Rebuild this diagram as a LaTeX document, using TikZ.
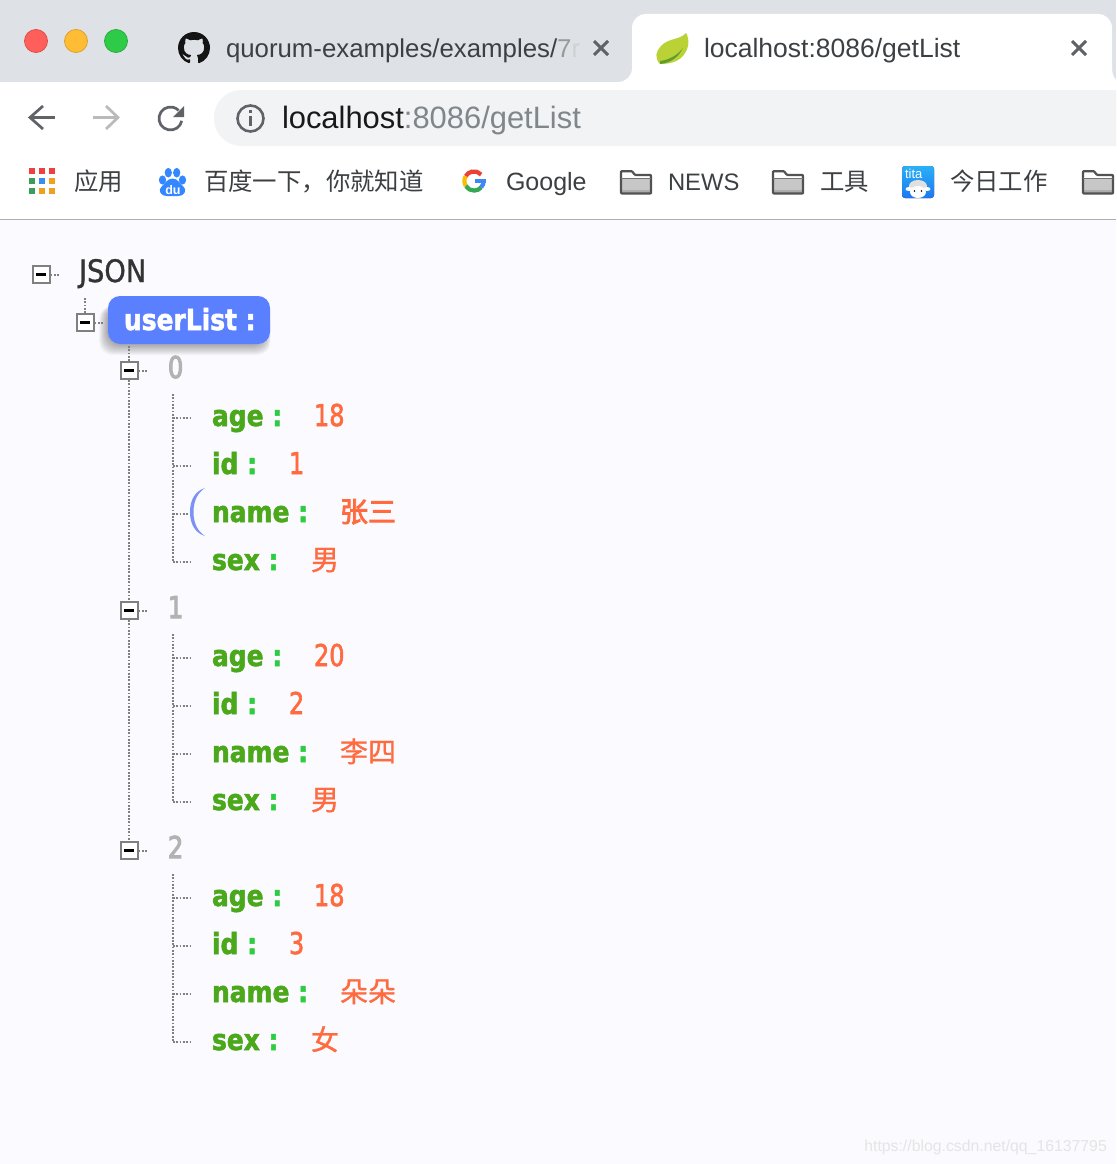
\documentclass[tikz,border=0pt]{standalone}
\usepackage{fontspec}
\setmainfont{Liberation Sans}
\newfontfamily\cjk{Noto Sans CJK SC}
\newfontfamily\cjkval[FakeBold=1.2]{Noto Sans CJK SC}
\newfontfamily\cjkhot[FakeBold=3]{Noto Sans CJK SC}
\newfontfamily\keyfont[FakeStretch=0.86,FakeBold=1.8]{DejaVu Sans}
\newfontfamily\valfont[FakeStretch=0.8,FakeBold=2]{DejaVu Sans}
\newfontfamily\idxfont[FakeStretch=0.8,FakeBold=3.5]{DejaVu Sans}
\newfontfamily\jsonfont[FakeStretch=0.88,FakeBold=1]{DejaVu Sans}
\usetikzlibrary{svg.path}
\newcommand\fsz[1]{\fontsize{#1}{#1}\selectfont}
\definecolor{pagebg}{HTML}{FAFAFF}
\definecolor{tabbar}{HTML}{DEE1E6}
\definecolor{addr}{HTML}{F1F3F4}
\definecolor{uigray}{HTML}{5F6368}
\definecolor{uitext}{HTML}{3C4043}
\definecolor{urlgray}{HTML}{80868B}
\definecolor{keygreen}{HTML}{4AA81A}
\definecolor{colongreen}{HTML}{2ECC40}
\definecolor{valorange}{HTML}{FF6A3F}
\definecolor{pillblue}{HTML}{5A80FF}
\definecolor{dotgray}{HTML}{808080}
\definecolor{idxgray}{HTML}{B2B2B2}
\definecolor{bmred}{HTML}{EF4040}
\definecolor{bmgreen}{HTML}{3A9D5D}
\definecolor{bmblue}{HTML}{3B8CF0}
\definecolor{bmorange}{HTML}{F0A020}
\tikzset{
  txt/.style={inner sep=0pt,outer sep=0pt,anchor=base west},
  tabtxt/.style={txt,text=uitext,font=\fsz{26.5}},
  bmtxt/.style={txt,text=uitext,font=\fsz{25}},
  bmcjk/.style={txt,text=uitext,font=\cjk\fsz{24.4}},
  keytxt/.style={txt,text=keygreen,font=\keyfont\bfseries\fsz{29}},
  valtxt/.style={txt,text=valorange,font=\valfont\fsz{30}},
  valcjk/.style={txt,text=valorange,font=\cjkval\fsz{28}},
  idxtxt/.style={txt,text=idxgray,font=\idxfont\fsz{30}},
  dots/.style={draw=dotgray,line width=2pt,dash pattern=on 1.8pt off 1.5pt},
  boxnode/.style={draw=dotgray,line width=2pt,fill=white,minimum size=17pt,inner sep=0pt,rectangle},
  minus/.style={draw=black,line width=2.3pt},
  uiline/.style={draw=uigray,line width=2.7pt},
  light/.style={circle,minimum size=23pt,inner sep=0pt,line width=.8pt},
}
\newcommand\folder[1]{%
  \begin{scope}[shift={(#1,170)}]
    \fill[white] (1,1) rectangle (31,23);
    \fill[black!22] (1,9) rectangle (31,23);
    \fill[black!32] (1,20) rectangle (31,23);
    \draw[draw=black!68,line width=2.2pt,line join=round,rounded corners=.8pt]
      (1,23.5) -- (1,1.2) -- (12,1.2) -- (15,5) -- (31,5) -- (31,23.5) -- cycle;
    \draw[draw=black!55,line width=1.2pt] (1,8.6) -- (31,8.6);
  \end{scope}}
\newcommand\cross[3]{\draw[draw=uigray,line width=2.9pt] (#1-7,#2-7) -- (#1+7,#2+7) (#1-7,#2+7) -- (#1+7,#2-7);}
\newcommand\treebox[3]{%
  \node[boxnode] (#1) at (#2,#3) {};
  \draw[minus] (#2-5,#3) -- (#2+5,#3);
  \coordinate (#1e) at (#2+18,#3);
  \draw[dots] (#1.east) -- (#1e);}
\newcommand\treerow[6]{%
  \coordinate (c#1) at (173,#2+2);
  \coordinate (d#1) at (190,#2+2);
  \draw[dots] (c#1) -- (d#1);
  \node[keytxt] (k#1) at (212,#2+10) {#3 {\color{colongreen}:}};
  \node[#6] (v#1) at (#4,#2+10) {#5};}
\begin{document}
\begin{tikzpicture}[x=1pt,y=-1pt]
\useasboundingbox (0,0) rectangle (1116,1164);
% page
\fill[pagebg] (0,0) rectangle (1116,1164);
\fill[white] (0,82) rectangle (1116,219);
\fill[tabbar] (0,0) rectangle (1116,82);
\draw[draw=black!32,line width=1pt] (0,219.5) -- (1116,219.5);
% active tab
\fill[white] (618,82) .. controls (626,82) and (632,76) .. (632,68) -- (632,28)
  .. controls (632,20) and (638,14) .. (646,14) -- (1098,14)
  .. controls (1106,14) and (1112,20) .. (1112,28) -- (1112,68)
  .. controls (1112,74) and (1114,78) .. (1116,80) -- (1116,82) -- cycle;
% traffic lights
\definecolor{tlredf}{HTML}{FF5F5A}\definecolor{tlredd}{HTML}{E24B45}
\definecolor{tlyelf}{HTML}{FFBD35}\definecolor{tlyeld}{HTML}{E0A028}
\definecolor{tlgrnf}{HTML}{2ECB48}\definecolor{tlgrnd}{HTML}{2AAC3A}
\node[light,fill=tlredf,draw=tlredd] (tlr) at (36,41) {};
\node[light,fill=tlyelf,draw=tlyeld] (tly) at (76,41) {};
\node[light,fill=tlgrnf,draw=tlgrnd] (tlg) at (116,41) {};
% github icon
\begin{scope}[shift={(178,32)},xscale=2,yscale=-2]
\fill[black!92] svg {M 8 0 C 3.58 0 0 3.58 0 8 c 0 3.54 2.29 6.53 5.47 7.59 c 0.4 0.07 0.55 -0.17 0.55 -0.38 c 0 -0.19 -0.01 -0.82 -0.01 -1.49 c -2.01 0.37 -2.53 -0.49 -2.69 -0.94 c -0.09 -0.23 -0.48 -0.94 -0.82 -1.13 c -0.28 -0.15 -0.68 -0.52 -0.01 -0.53 c 0.63 -0.01 1.08 0.58 1.23 0.82 c 0.72 1.21 1.87 0.87 2.33 0.66 c 0.07 -0.52 0.28 -0.87 0.51 -1.07 c -1.78 -0.2 -3.64 -0.89 -3.64 -3.95 c 0 -0.87 0.31 -1.59 0.82 -2.15 c -0.08 -0.2 -0.36 -1.02 0.08 -2.12 c 0 0 0.67 -0.21 2.2 0.82 c 0.64 -0.18 1.32 -0.27 2 -0.27 c 0.68 0 1.36 0.09 2 0.27 c 1.53 -1.04 2.2 -0.82 2.2 -0.82 c 0.44 1.1 0.16 1.92 0.08 2.12 c 0.51 0.56 0.82 1.27 0.82 2.15 c 0 3.07 -1.87 3.75 -3.65 3.95 c 0.29 0.25 0.54 0.73 0.54 1.48 c 0 1.07 -0.01 1.93 -0.01 2.2 c 0 0.21 0.15 0.46 0.55 0.38 C 13.71 14.53 16 11.53 16 8 c 0 -4.42 -3.58 -8 -8 -8 z};
\end{scope}
\node[tabtxt,font=\fsz{25.8}] (tab1) at (226,57) {quorum-examples/examples/{\color{black!40}7}{\color{black!18}r}};
\cross{601}{48}{}
% leaf
\definecolor{leaflight}{HTML}{BBD236}\definecolor{leafdark}{HTML}{5E9E2D}
\fill[leaflight] (686,33) .. controls (680,40) and (668,38) .. (661,46)
  .. controls (656,51) and (654,58) .. (660,64)
  .. controls (670,64) and (684,62) .. (688,46) .. controls (689,41) and (688,36) .. (686,33) -- cycle;
\fill[leafdark] (660,61) .. controls (668,60) and (677,56) .. (683,48)
  .. controls (678,58) and (670,63) .. (660,64) -- cycle;
\node[tabtxt] (tab2) at (704,57) {localhost:8086/getList};
\cross{1079}{48}{}
% navigation
\draw[uiline,line join=miter] (43,106) -- (30,117.5) -- (43,129);
\draw[uiline] (30,117.5) -- (55,117.5);
\draw[draw=black!27,line width=2.7pt] (106,106) -- (118,117.5) -- (106,129);
\draw[draw=black!27,line width=2.7pt] (93,117.5) -- (118,117.5);
\coordinate (rc) at (170.5,118.5);
\draw[uiline] ([shift={(-12:11.5pt)}]rc) arc[start angle=-12,end angle=-315,radius=11.5pt];
\fill[uigray] (184,106) -- (184,117) -- (173,117) -- cycle;
\fill[addr] (242,90) .. controls (226,90) and (214,102) .. (214,118) .. controls (214,134) and (226,146) .. (242,146) -- (1116,146) -- (1116,90) -- cycle;
\node[circle,draw=uigray,line width=2.6pt,minimum size=26pt,inner sep=0pt] (info) at (250.5,118.5) {};
\fill[uigray] (248.8,109.5) rectangle (252.2,112.8);
\fill[uigray] (248.8,115.5) rectangle (252.2,125.5);
\node[txt,font=\fsz{30.9},text=black!90] (url) at (282,128.5) {localhost{\color{urlgray}:8086/getList}};
% bookmarks
\foreach \x/\y/\c in {29.3/168/bmred,39.2/168/bmred,49.3/168/bmred,
  29.3/178/bmgreen,39.2/178/bmblue,49.3/178/bmorange,
  29.3/188/bmgreen,39.2/188/bmorange,49.3/188/bmorange}
  {\fill[\c] (\x,\y) rectangle (\x+5.8,\y+5.6);}
\node[bmcjk] (bm1) at (74,190) {应用};
% baidu paw
\begin{scope}
\definecolor{baidu}{HTML}{3388FF}
\fill[baidu] (162.5,180) ellipse[x radius=3.6pt,y radius=4.6pt];
\fill[baidu] (168.3,172.7) ellipse[x radius=3.6pt,y radius=4.8pt];
\fill[baidu] (176.7,172.7) ellipse[x radius=3.6pt,y radius=4.8pt];
\fill[baidu] (182.5,180) ellipse[x radius=3.6pt,y radius=4.6pt];
\fill[baidu] (172.5,178.5) .. controls (178,178.5) and (180,184) .. (183,186)
  .. controls (188,190) and (184,196.5) .. (178,196) -- (167,196) .. controls (161,196.5) and (157,190) .. (162,186)
  .. controls (165,184) and (167,178.5) .. (172.5,178.5) -- cycle;
\node[txt,text=white,font=\bfseries\fsz{12.5}] (du) at (165.3,194.5) {du};
\end{scope}
\node[bmcjk] (bm2) at (204,190) {百度一下，你就知道};
% google G
\definecolor{gred}{HTML}{EA4335}\definecolor{gyel}{HTML}{FBBC05}\definecolor{ggrn}{HTML}{34A853}\definecolor{gblu}{HTML}{4285F4}
\coordinate (gc) at (474,181);
\draw[draw=gred,line width=4.2pt] ([shift={(42:9.6pt)}]gc) arc[start angle=42,end angle=150,radius=9.6pt];
\draw[draw=gyel,line width=4.2pt] ([shift={(150:9.6pt)}]gc) arc[start angle=150,end angle=212,radius=9.6pt];
\draw[draw=ggrn,line width=4.2pt] ([shift={(212:9.6pt)}]gc) arc[start angle=212,end angle=318,radius=9.6pt];
\draw[draw=gblu,line width=4.2pt] ([shift={(318:9.6pt)}]gc) arc[start angle=318,end angle=360,radius=9.6pt];
\fill[gblu] (474.5,179) rectangle (485.5,183);
\node[bmtxt] (bm3) at (506,190) {Google};
\folder{620}
\node[bmtxt,font=\fsz{23.8}] (bm4) at (668,190) {NEWS};
\folder{772}
\node[bmcjk] (bm5) at (820,190) {工具};
% tito
\definecolor{titotop}{HTML}{2AB0F6}\definecolor{titobot}{HTML}{1C78F0}
\fill[top color=titotop,bottom color=titobot,rounded corners=3pt] (902,166) rectangle (934,198);
\node[txt,text=white,font=\fsz{13}] (tita) at (905,178) {tita};
\fill[black!12] (918,186) ellipse[x radius=9pt,y radius=6pt];
\fill[white] (918,192) ellipse[x radius=8pt,y radius=6pt];
\fill[white] (909,189) ellipse[x radius=3.5pt,y radius=2pt];
\fill[white] (927,189) ellipse[x radius=3.5pt,y radius=2pt];
\fill[black] (914.5,191) circle[radius=.9pt];
\fill[black] (921.5,191) circle[radius=.9pt];
\node[bmcjk] (bm6) at (950,190) {今日工作};
\folder{1082}
% tree
\node[txt,text=black!80,font=\jsonfont\fsz{31}] (json) at (79,282) {JSON};
\treebox{b0}{41}{274.5}{}
\foreach \o in {11,10,9,8,7,6,5,4,3,2,1}
  {\fill[black,opacity=.03,rounded corners=13pt] (108-\o*.8,306) rectangle (270+\o*.5-5,344+\o);}
\node[fill=pillblue,rounded corners=12pt,minimum width=162pt,minimum height=48pt,inner sep=0pt] (pill) at (189,320) {};
\node[keytxt,text=white] (user) at (124,330) {userList :};
\coordinate (p0) at (85,298);
\treebox{b1}{85}{322.5}{}
\draw[dots] (p0) -- (b1.north);
\coordinate (p1) at (129,346);
\treebox{i0}{129}{370.5}{}
\treebox{i1}{129}{610.5}{}
\treebox{i2}{129}{850.5}{}
\draw[dots] (p1) -- (i0.north);
\draw[dots] (i0.south) -- (i1.north);
\draw[dots] (i1.south) -- (i2.north);
\node[idxtxt] (n0) at (168,378) {0};
\node[idxtxt] (n1) at (168,618) {1};
\node[idxtxt] (n2) at (168,858) {2};
% rows of record 0
\coordinate (t0) at (173,394);
\treerow{a0}{416}{age}{314}{18}{valtxt}
\treerow{b0x}{464}{id}{289}{1}{valtxt}
\treerow{c0}{512}{name}{340}{{\cjkhot 张三}}{valcjk}
\treerow{d0}{560}{sex}{311}{男}{valcjk}
\draw[dots] (t0) -- (cd0);
% hover bracket
\definecolor{hoverblue}{HTML}{7C93F5}
\fill[hoverblue] (205,488) .. controls (195,491) and (190,500) .. (190,512)
  .. controls (190,524) and (195,533) .. (205,536)
  .. controls (197,531) and (193.5,522) .. (193.5,512) .. controls (193.5,502) and (197,493) .. (205,488) -- cycle;
% rows of record 1
\coordinate (t1) at (173,634);
\treerow{a1}{656}{age}{314}{20}{valtxt}
\treerow{b1x}{704}{id}{289}{2}{valtxt}
\treerow{c1}{752}{name}{340}{李四}{valcjk}
\treerow{d1}{800}{sex}{311}{男}{valcjk}
\draw[dots] (t1) -- (cd1);
% rows of record 2
\coordinate (t2) at (173,874);
\treerow{a2}{896}{age}{314}{18}{valtxt}
\treerow{b2x}{944}{id}{289}{3}{valtxt}
\treerow{c2}{992}{name}{340}{朵朵}{valcjk}
\treerow{d2}{1040}{sex}{311}{女}{valcjk}
\draw[dots] (t2) -- (cd2);
% watermark
\node[inner sep=0pt,anchor=base east,text=black!10,font=\fsz{15.8}] (wm) at (1107,1151) {https://blog.csdn.net/qq\_16137795};
\end{tikzpicture}
\end{document}
